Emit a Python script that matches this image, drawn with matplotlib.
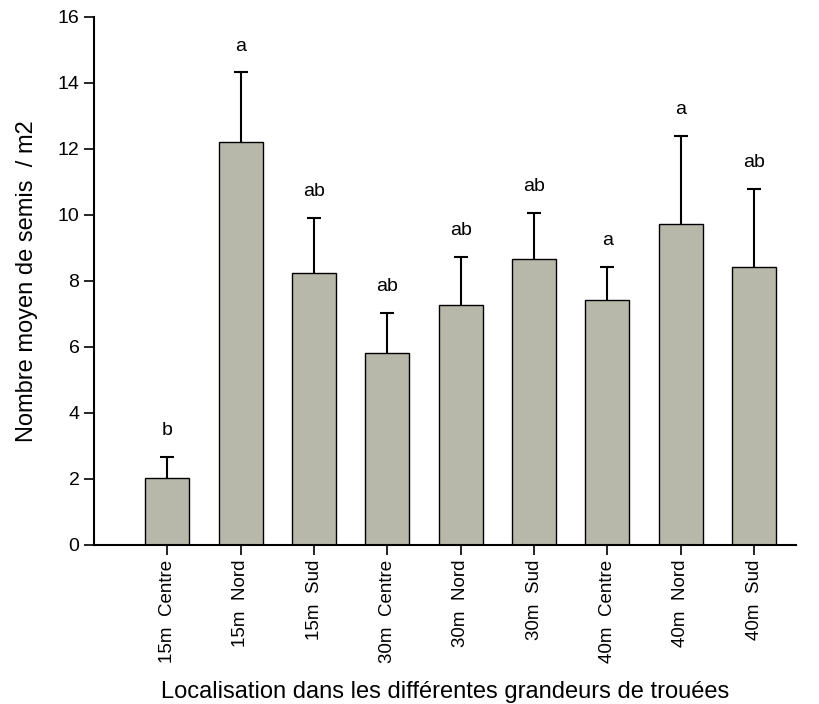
import matplotlib
matplotlib.use("Agg")
import matplotlib.pyplot as plt
import numpy as np

matplotlib.rcParams['font.family'] = ['Liberation Sans', 'DejaVu Sans']

# moyennes, erreurs et lettres de groupement
sites = ['15m  Centre', '15m  Nord', '15m  Sud', '30m  Centre', '30m  Nord',
         '30m  Sud', '40m  Centre', '40m  Nord', '40m  Sud']
moyennes = [2.02, 12.2, 8.23, 5.81, 7.27, 8.66, 7.42, 9.73, 8.41]
erreurs = [0.66, 2.12, 1.67, 1.22, 1.47, 1.41, 1.01, 2.67, 2.39]
lettres = ['b', 'a', 'ab', 'ab', 'ab', 'ab', 'a', 'a', 'ab']

fig = plt.figure(figsize=(8.19, 7.04), dpi=100)
ax = fig.add_axes([0.1148, 0.2259, 0.857, 0.75])

x = np.arange(len(sites))
ax.bar(x, moyennes, width=0.6, color='#b8b8aa', edgecolor='black', linewidth=1, zorder=2)
# barres d'erreur vers le haut seulement
_, caps, _ = ax.errorbar(x, moyennes, yerr=[np.zeros(len(erreurs)), erreurs], fmt='none',
                         ecolor='black', elinewidth=1.5, capsize=5, capthick=1.5, zorder=1)
caps[0].set_visible(False)

for xi, m, e, l in zip(x, moyennes, erreurs, lettres):
    ax.text(xi, m + e + 0.8, l, ha='center', va='center', fontsize=14)

ax.set_xlim(-1, 8.57)
ax.set_ylim(0, 16)
ax.set_yticks(np.arange(0, 17, 2))
ax.set_xticks(x)
ax.set_xticklabels(sites, rotation=90, fontsize=13.5)
ax.tick_params(axis='y', labelsize=14, length=7, width=1.2, direction='out')
ax.tick_params(axis='x', length=7, width=1.2, direction='out')

for s in ['top', 'right']:
    ax.spines[s].set_visible(False)
for s in ['left', 'bottom']:
    ax.spines[s].set_linewidth(1.5)

ax.set_ylabel('Nombre moyen de semis  / m2', fontsize=17)
ax.set_xlabel('Localisation dans les différentes grandeurs de trouées', fontsize=17, labelpad=13)
ax.yaxis.set_label_coords(-0.08, 0.5)

fig.savefig('out.png', dpi=100)
